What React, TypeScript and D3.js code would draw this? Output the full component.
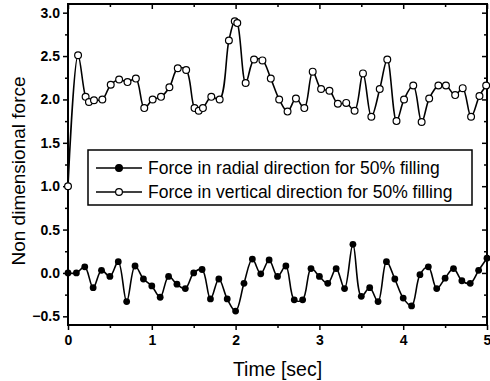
import * as d3 from 'd3';
import { useRef, useEffect } from 'react';

// radial force (filled markers), sampled every 0.1 s
const radialTime = [
  0, 0.1, 0.2, 0.3, 0.4, 0.5, 0.6, 0.7, 0.8, 0.9,
  1.0, 1.1, 1.2, 1.3, 1.4, 1.5, 1.6, 1.7, 1.8, 1.9,
  2.0, 2.1, 2.2, 2.3, 2.4, 2.5, 2.6, 2.7, 2.8, 2.9,
  3.0, 3.1, 3.2, 3.3, 3.4, 3.5, 3.6, 3.7, 3.8, 3.9,
  4.0, 4.1, 4.2, 4.3, 4.4, 4.5, 4.6, 4.7, 4.8, 4.9, 5.0,
];
const radialForce = [
  0.0, 0.0, 0.07, -0.17, 0.03, -0.04, 0.13, -0.33, 0.08, -0.07,
  -0.15, -0.28, -0.04, -0.13, -0.18, 0.0, 0.04, -0.3, -0.07, -0.3,
  -0.44, -0.12, 0.16, -0.01, 0.15, -0.04, 0.08, -0.31, -0.31, 0.05,
  -0.04, -0.12, 0.05, -0.18, 0.33, -0.27, -0.17, -0.33, 0.13, -0.07,
  -0.29, -0.38, -0.02, 0.07, -0.18, -0.06, 0.05, -0.09, -0.12, 0.03, 0.17,
];

// vertical force (open markers)
const verticalTime = [
  0, 0.12, 0.21, 0.25, 0.31, 0.41, 0.51, 0.61, 0.71, 0.81, 0.91,
  1.01, 1.11, 1.21, 1.31, 1.41, 1.51, 1.56, 1.61, 1.71, 1.81, 1.92,
  1.99, 2.02, 2.12, 2.22, 2.32, 2.42, 2.52, 2.62, 2.72, 2.82, 2.92,
  3.02, 3.12, 3.22, 3.32, 3.42, 3.52, 3.62, 3.72, 3.81, 3.92,
  4.01, 4.12, 4.22, 4.31, 4.42, 4.51, 4.62, 4.71, 4.81, 4.91, 4.99,
];
const verticalForce = [
  1.0, 2.51, 2.03, 1.97, 1.99, 2.0, 2.17, 2.23, 2.2, 2.24, 1.9,
  2.0, 2.03, 2.14, 2.36, 2.34, 1.9, 1.87, 1.9, 2.03, 2.0, 2.68,
  2.9, 2.88, 2.19, 2.46, 2.45, 2.24, 2.0, 1.86, 2.01, 1.9, 2.32,
  2.12, 2.1, 1.95, 1.96, 1.87, 2.3, 1.8, 2.12, 2.46, 1.75,
  2.0, 2.16, 1.74, 2.01, 2.16, 2.16, 2.05, 2.13, 1.8, 2.04, 2.16,
];

const xTicks = [0, 1, 2, 3, 4, 5];
const xMinor = [0.5, 1.5, 2.5, 3.5, 4.5];
const yTicks = [-0.5, 0.0, 0.5, 1.0, 1.5, 2.0, 2.5, 3.0];
const yMinor = [-0.25, 0.25, 0.75, 1.25, 1.75, 2.25, 2.75];
const legendLabels = [
  'Force in radial direction for 50% filling',
  'Force in vertical direction for 50% filling',
];

const W = 490;
const H = 381;
const FONT = '"Liberation Sans", Arial, sans-serif';

interface Pt { t: number; v: number; }

const App = () => {
  const ref = useRef<SVGSVGElement>(null);

  useEffect(() => {
    if (!ref.current) return;
    const svg = d3.select(ref.current);
    svg.selectAll('*').remove();

    const x = d3.scaleLinear().domain([0, 5]).range([68, 487]);
    const y = d3.scaleLinear().domain([-0.6, 3.1]).range([325, 4]);
    const [x0, x1] = x.range();
    const [y0, y1] = y.range();

    const radial: Pt[] = radialTime.map((t, i) => ({ t, v: radialForce[i] }));
    const vertical: Pt[] = verticalTime.map((t, i) => ({ t, v: verticalForce[i] }));

    const line = d3.line<Pt>()
      .x(d => x(d.t))
      .y(d => y(d.v))
      .curve(d3.curveCatmullRom.alpha(0.5));

    const styleAxis = (g: any) => {
      g.select('.domain').remove();
      g.selectAll('line').attr('stroke', '#000').attr('stroke-width', 1.5);
      g.selectAll('text')
        .attr('font-family', FONT)
        .attr('font-size', 14)
        .attr('font-weight', 'bold')
        .attr('fill', '#000');
    };

    // axes: left & bottom outward, top & right inward
    svg.append('g').attr('transform', `translate(${x0},0)`)
      .call(d3.axisLeft(y).tickValues(yTicks).tickFormat(d3.format('.1f')).tickSize(5).tickPadding(3))
      .call(styleAxis);
    svg.append('g').attr('transform', `translate(${x0},0)`)
      .call(d3.axisLeft(y).tickValues(yMinor).tickFormat(() => '').tickSize(3))
      .call(styleAxis);
    svg.append('g').attr('transform', `translate(0,${y0})`)
      .call(d3.axisBottom(x).tickValues(xTicks).tickFormat(d3.format('d')).tickSize(5).tickPadding(5))
      .call(styleAxis);
    svg.append('g').attr('transform', `translate(0,${y0})`)
      .call(d3.axisBottom(x).tickValues(xMinor).tickFormat(() => '').tickSize(3))
      .call(styleAxis);
    svg.append('g').attr('transform', `translate(${x1},0)`)
      .call(d3.axisRight(y).tickValues(yTicks).tickFormat(() => '').tickSize(-5))
      .call(styleAxis);
    svg.append('g').attr('transform', `translate(${x1},0)`)
      .call(d3.axisRight(y).tickValues(yMinor).tickFormat(() => '').tickSize(-3))
      .call(styleAxis);
    svg.append('g').attr('transform', `translate(0,${y1})`)
      .call(d3.axisTop(x).tickValues(xTicks).tickFormat(() => '').tickSize(-5))
      .call(styleAxis);
    svg.append('g').attr('transform', `translate(0,${y1})`)
      .call(d3.axisTop(x).tickValues(xMinor).tickFormat(() => '').tickSize(-3))
      .call(styleAxis);

    // frame
    svg.append('rect')
      .attr('x', x0).attr('y', y1)
      .attr('width', x1 - x0).attr('height', y0 - y1)
      .attr('fill', 'none').attr('stroke', '#000').attr('stroke-width', 2);

    // series
    const plot = svg.append('g');
    plot.append('path').datum(radial)
      .attr('d', line).attr('fill', 'none').attr('stroke', '#000').attr('stroke-width', 1.6);
    plot.selectAll('.rad').data(radial).enter().append('circle')
      .attr('class', 'rad')
      .attr('cx', d => x(d.t)).attr('cy', d => y(d.v)).attr('r', 3.4)
      .attr('fill', '#000');

    plot.append('path').datum(vertical)
      .attr('d', line).attr('fill', 'none').attr('stroke', '#000').attr('stroke-width', 1.6);
    plot.selectAll('.ver').data(vertical).enter().append('circle')
      .attr('class', 'ver')
      .attr('cx', d => x(d.t)).attr('cy', d => y(d.v)).attr('r', 3.4)
      .attr('fill', '#fff').attr('stroke', '#000').attr('stroke-width', 1.2);

    // legend
    const lg = svg.append('g');
    lg.append('rect')
      .attr('x', 88).attr('y', 150).attr('width', 384).attr('height', 55)
      .attr('fill', '#fff').attr('stroke', '#000').attr('stroke-width', 1.5);
    legendLabels.forEach((label, i) => {
      const cy = 168 + i * 24;
      lg.append('line')
        .attr('x1', 96).attr('x2', 142).attr('y1', cy).attr('y2', cy)
        .attr('stroke', '#000').attr('stroke-width', 1.6);
      lg.append('circle')
        .attr('cx', 119).attr('cy', cy).attr('r', 3.4)
        .attr('fill', i === 0 ? '#000' : '#fff')
        .attr('stroke', '#000').attr('stroke-width', 1.2);
      lg.append('text')
        .attr('x', 148).attr('y', cy + 6)
        .attr('font-family', FONT).attr('font-size', 17.5)
        .attr('fill', '#000')
        .text(label);
    });

    // axis titles
    svg.append('text')
      .attr('x', (x0 + x1) / 2).attr('y', 376)
      .attr('text-anchor', 'middle')
      .attr('font-family', FONT).attr('font-size', 19.5)
      .text('Time [sec]');
    svg.append('text')
      .attr('transform', `translate(25,${171}) rotate(-90)`)
      .attr('text-anchor', 'middle')
      .attr('font-family', FONT).attr('font-size', 19)
      .text('Non dimensional force');
  }, []);

  return (
    <svg ref={ref} width={W} height={H}
      style={{ position: 'absolute', left: 0, top: 0, background: '#fff' }} />
  );
};

export default App;
